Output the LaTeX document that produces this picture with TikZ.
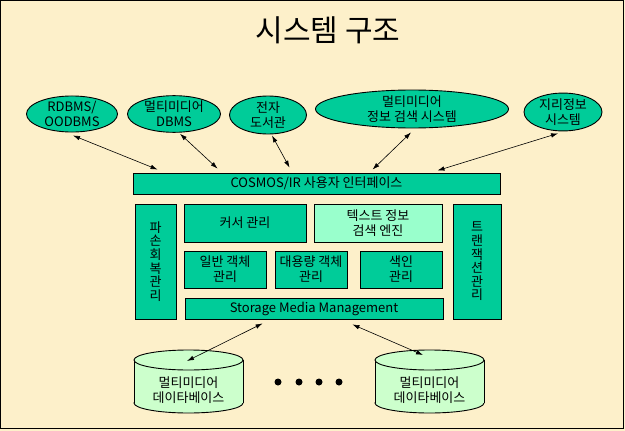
\documentclass[tikz,border=0pt]{standalone}
\usepackage{fontspec}
\setmainfont{Noto Sans CJK KR}
\usetikzlibrary{positioning, shapes.geometric, arrows.meta}
\definecolor{boxgreen}{RGB}{0,204,153}
\definecolor{enginegreen}{RGB}{153,255,204}
\definecolor{dbgreen}{RGB}{204,255,204}
\definecolor{paper}{RGB}{253,240,202}

\begin{document}
\begin{tikzpicture}[x=1pt, y=-1pt,
    box/.style={draw, fill=boxgreen, line width=0.9pt, inner sep=0pt, align=center, font=\fontsize{13}{15}\selectfont},
    app/.style={box, ellipse},
    upright/.style={box, font=\fontsize{13}{13.6}\selectfont},
    link/.style={<->, >={Latex[length=7pt,width=4.5pt]}, line width=0.6pt}]
    \useasboundingbox (0,0) rectangle (625,431);
    \fill[paper] (0,0) rectangle (625,431);
    \draw[line width=1pt] (0.5,0.5) rectangle (623,428);

    \node[font=\fontsize{30}{30}\selectfont]                        (title)   at (328,30)    {시스템 구조};

    \node[app, minimum width=91pt,  minimum height=36pt]            (rdbms)   at (72,114)    {RDBMS/\\OODBMS};
    \node[app, minimum width=93pt,  minimum height=36pt]            (mmdbms)  at (174,114)   {멀티미디어\\DBMS};
    \node[app, minimum width=77pt,  minimum height=38pt]            (library) at (268,115)   {전자\\도서관};
    \node[app, minimum width=193pt, minimum height=38pt]            (mmir)    at (412,109)   {멀티미디어\\정보 검색 시스템};
    \node[app, minimum width=78pt,  minimum height=34pt]            (gis)     at (563,112)   {지리정보\\시스템};

    \node[box, minimum width=367pt, minimum height=21pt]            (ui)      at (316.5,183.5) {COSMOS/IR 사용자 인터페이스};
    \node[upright, minimum width=41pt, minimum height=115pt]        (recover) at (155.5,261.5) {파\\손\\회\\복\\관\\리};
    \node[box, minimum width=122pt, minimum height=38pt]            (cursor)  at (245,223)   {커서 관리};
    \node[box, fill=enginegreen, minimum width=128pt, minimum height=38pt] (engine) at (378,223) {텍스트 정보\\검색 엔진};
    \node[box, minimum width=82pt, minimum height=37pt]             (object)  at (225,269.5) {일반 객체\\관리};
    \node[box, minimum width=72pt, minimum height=37pt]             (large)   at (311,269.5) {대용량 객체\\관리};
    \node[box, minimum width=82pt, minimum height=37pt]             (index)   at (401,269.5) {색인\\관리};
    \node[box, minimum width=258pt, minimum height=21pt]            (storage) at (314,308.5) {Storage Media Management};
    \node[upright, minimum width=48pt, minimum height=115pt]        (trans)   at (477,261.5) {트\\랜\\잭\\션\\관\\리};

    % databases
    \filldraw[fill=dbgreen, line width=0.9pt] (188.5,403) ellipse [x radius=54.5, y radius=10];
    \fill[dbgreen] (134,360) rectangle (243,403);
    \draw[line width=0.9pt] (134,360) -- (134,403) (243,360) -- (243,403);
    \filldraw[fill=dbgreen, line width=0.9pt] (188.5,360) ellipse [x radius=54.5, y radius=10];
    \filldraw[fill=dbgreen, line width=0.9pt] (429.5,403) ellipse [x radius=54.5, y radius=10];
    \fill[dbgreen] (375,360) rectangle (484,403);
    \draw[line width=0.9pt] (375,360) -- (375,403) (484,360) -- (484,403);
    \filldraw[fill=dbgreen, line width=0.9pt] (429.5,360) ellipse [x radius=54.5, y radius=10];
    \node[align=center, font=\fontsize{13}{15}\selectfont]          (db 1)    at (188.5,390) {멀티미디어\\데이타베이스};
    \node[align=center, font=\fontsize{13}{15}\selectfont]          (db 2)    at (429.5,390) {멀티미디어\\데이타베이스};
    \coordinate (top 1) at (187,361);
    \coordinate (top 2) at (423,355);

    \foreach \x in {278,299,319,339}
        \fill (\x,382) circle[radius=3.5pt];

    \draw[link] ([xshift=1pt,yshift=-3pt]rdbms.south)    -- ([xshift=25pt,yshift=3pt]ui.north west);
    \draw[link] ([xshift=6pt,yshift=-1pt]mmdbms.south)   -- ([xshift=85pt,yshift=4pt]ui.north west);
    \draw[link] ([xshift=4pt,yshift=-1pt]library.south)  -- ([xshift=157pt,yshift=5pt]ui.north west);
    \draw[link] ([xshift=-1pt,yshift=-4pt]mmir.south)    -- ([xshift=240pt,yshift=3pt]ui.north west);
    \draw[link] ([xshift=-5pt,yshift=-2pt]gis.south)     -- ([xshift=-63pt,yshift=2pt]ui.north east);
    \draw[link] ([xshift=78pt,yshift=-4pt]storage.south west)  -- (top 1);
    \draw[link] ([xshift=-91pt,yshift=-5pt]storage.south east) -- (top 2);
\end{tikzpicture}
\end{document}
